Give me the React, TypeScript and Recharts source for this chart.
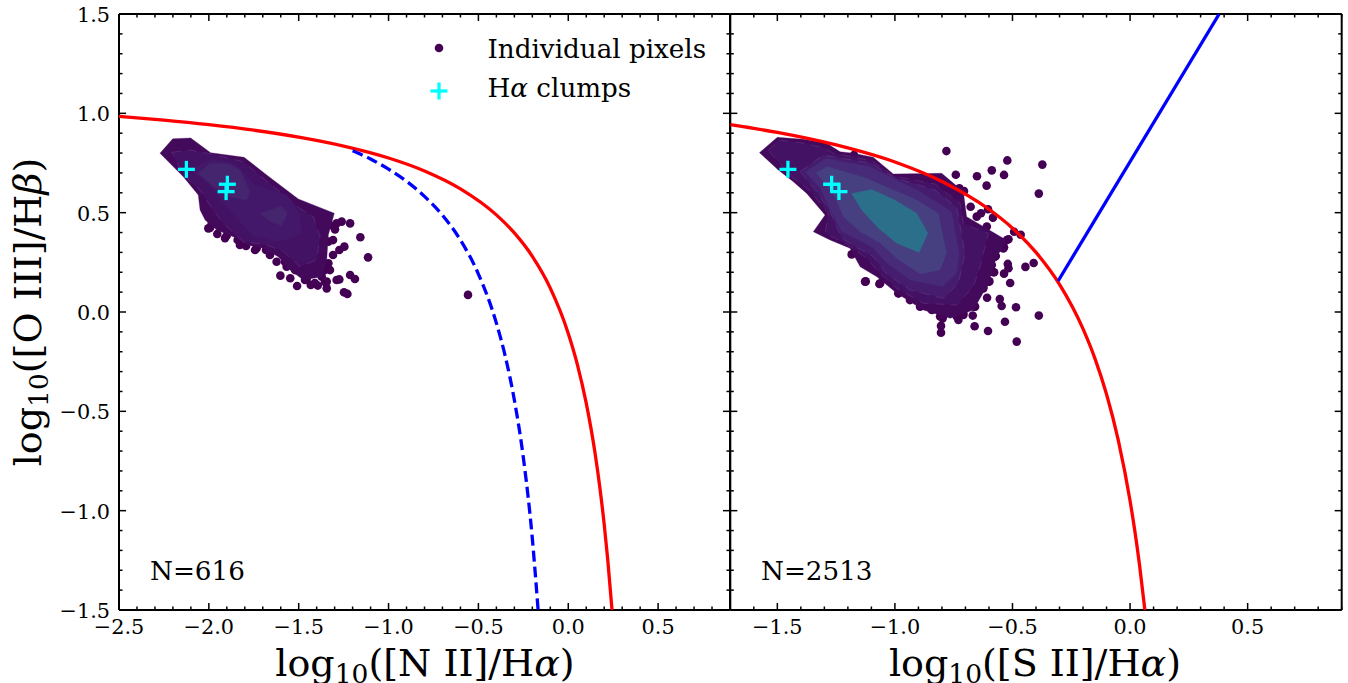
import React from "react";
import { ScatterChart, Scatter, XAxis, YAxis } from "recharts";

type P = [number, number];

// ---------- axis ticks ----------
const xTicksLeft = [-2.5,-2.4,-2.3,-2.2,-2.1,-2.0,-1.9,-1.8,-1.7,-1.6,-1.5,-1.4,-1.3,-1.2,-1.1,-1.0,-0.9,-0.8,-0.7,-0.6,-0.5,-0.4,-0.3,-0.2,-0.1,0,0.1,0.2,0.3,0.4,0.5,0.6,0.7,0.8,0.9];
const xTicksRight = [-1.7,-1.6,-1.5,-1.4,-1.3,-1.2,-1.1,-1.0,-0.9,-0.8,-0.7,-0.6,-0.5,-0.4,-0.3,-0.2,-0.1,0,0.1,0.2,0.3,0.4,0.5,0.6,0.7,0.8,0.9];
const yTicks = [-1.5,-1.4,-1.3,-1.2,-1.1,-1.0,-0.9,-0.8,-0.7,-0.6,-0.5,-0.4,-0.3,-0.2,-0.1,0,0.1,0.2,0.3,0.4,0.5,0.6,0.7,0.8,0.9,1.0,1.1,1.2,1.3,1.4,1.5];

// ---------- demarcation curves ----------
const kewleyNII: P[] = [[-2.5,.985],[-2.25,.966],[-2,.943],[-1.75,.915],[-1.5,.88],[-1.25,.835],[-1,.775],[-.8,.71],[-.6,.62],[-.4,.489],[-.3,.398],[-.2,.28],[-.1,.12],[0,-.108],[.05,-.262],[.1,-.459],[.15,-.716],[.175,-.878],[.2,-1.069],[.22,-1.25],[.2435,-1.5]];
const kauffmannNII: P[] = [[-1.2,.812],[-1.1,.77],[-1,.719],[-.9,.658],[-.8,.582],[-.7,.487],[-.6,.362],[-.5,.191],[-.4,-.056],[-.35,-.225],[-.3,-.443],[-.25,-.733],[-.2,-1.14],[-.168,-1.498]];
const kewleySII: P[] = [[-1.7,.943],[-1.5,.904],[-1.25,.841],[-1,.755],[-.8,.657],[-.6,.517],[-.5,.422],[-.4,.3],[-.3,.139],[-.2,-.085],[-.15,-.232],[-.1,-.414],[-.05,-.646],[0,-.95],[.02,-1.1],[.04,-1.271],[.063,-1.5]];
const seyfertLiner: P[] = [[-.306,.156],[.379,1.5]];

// ---------- left panel: contours ----------
const leftLevel0: P[] = [[-2.272,.799],[-2.201,.872],[-2.101,.876],[-1.99,.802],[-1.804,.779],[-1.678,.69],[-1.502,.569],[-1.302,.497],[-1.335,.388],[-1.344,.262],[-1.372,.178],[-1.474,.161],[-1.548,.211],[-1.614,.278],[-1.697,.321],[-1.789,.337],[-1.845,.371],[-1.956,.413],[-2.021,.463],[-2.049,.513],[-2.059,.589],[-2.142,.681]];
const leftLevel1: P[] = [[-2.207,.804],[-2.105,.815],[-1.984,.795],[-1.808,.757],[-1.697,.673],[-1.493,.522],[-1.419,.48],[-1.381,.379],[-1.4,.262],[-1.493,.228],[-1.586,.304],[-1.678,.337],[-1.808,.354],[-1.92,.446],[-1.984,.522],[-2.012,.564],[-2.059,.623],[-2.142,.69]];
const leftLevel2: P[] = [[-2.105,.715],[-1.984,.774],[-1.845,.74],[-1.743,.639],[-1.567,.589],[-1.502,.505],[-1.483,.396],[-1.604,.354],[-1.753,.379],[-1.836,.463],[-1.91,.539],[-2.003,.648]];
const leftLevel3a: P[] = [[-2.059,.698],[-1.994,.748],[-1.892,.748],[-1.827,.715],[-1.771,.606],[-1.789,.564],[-1.892,.58],[-1.984,.639]];
const leftLevel3b: P[] = [[-1.715,.497],[-1.595,.534],[-1.563,.497],[-1.595,.433],[-1.669,.463]];

// ---------- left panel: points ----------
const leftPixels: P[] = [[-2.003,.421],[-1.953,.393],[-1.901,.384],[-1.84,.362],[-1.793,.332],[-1.682,.312],[-1.623,.253],[-1.602,.183],[-1.547,.17],[-1.509,.131],[-1.433,.136],[-1.394,.133],[-1.344,.119],[-1.344,.153],[-1.289,.161],[-1.274,.164],[-1.214,.186],[-1.187,.166],[-1.248,.099],[-1.229,.091],[-1.114,.275],[-1.274,.312],[-1.246,.329],[-1.157,.376],[-1.214,.446],[-1.261,.455],[-1.289,.446],[-1.298,.416],[-1.335,.354],[-1.335,.245],[-.558,.086],[-1.456,.164],[-1.372,.178],[-1.354,.211],[-1.567,.228],[-1.734,.321],[-1.882,.404],[-1.984,.446],[-1.52,.211],[-1.465,.161],[-1.41,.146],[-1.354,.151],[-1.326,.211],[-1.309,.287],[-1.309,.362],[-1.326,.438],[-1.576,.252],[-1.66,.287],[-1.743,.312],[-1.827,.337],[-1.91,.372],[-1.994,.423]];
const leftClumps: P[] = [[-2.125,.718],[-1.897,.643],[-1.904,.606]];

// ---------- right panel: contours ----------
const rightLevel0: P[] = [[-1.576,.802],[-1.5,.879],[-1.389,.869],[-1.29,.849],[-1.233,.807],[-1.177,.799],[-1.092,.779],[-1.007,.695],[-.801,.698],[-.709,.606],[-.695,.48],[-.539,.371],[-.525,.354],[-.567,.279],[-.602,.144],[-.666,.01],[-.765,-.032],[-.879,.01],[-.992,.094],[-1.077,.178],[-1.148,.228],[-1.191,.321],[-1.276,.363],[-1.347,.404],[-1.297,.488],[-1.375,.597],[-1.432,.656],[-1.496,.715]];
const rightLevel1: P[] = [[-1.538,.812],[-1.496,.866],[-1.382,.849],[-1.297,.824],[-1.262,.799],[-1.099,.762],[-1.007,.685],[-.829,.644],[-.723,.547],[-.709,.443],[-.602,.396],[-.638,.228],[-.666,.128],[-.737,.035],[-.879,.044],[-.992,.119],[-1.077,.211],[-1.12,.27],[-1.205,.342],[-1.297,.396],[-1.283,.497],[-1.361,.611],[-1.432,.673]];
const rightLevel2: P[] = [[-1.404,.706],[-1.304,.79],[-1.099,.748],[-1.007,.678],[-.829,.614],[-.737,.527],[-.702,.295],[-.73,.144],[-.794,.069],[-.936,.111],[-1.035,.191],[-1.092,.279],[-1.156,.321],[-1.226,.371],[-1.276,.505],[-1.333,.606]];
const rightLevel3: P[] = [[-1.382,.706],[-1.293,.774],[-1.106,.732],[-.893,.606],[-.758,.505],[-.726,.295],[-.737,.195],[-.797,.128],[-.936,.161],[-1.035,.245],[-1.092,.321],[-1.156,.362],[-1.226,.404],[-1.276,.513],[-1.318,.623]];
const rightLevel4: P[] = [[-1.335,.701],[-1.287,.732],[-1.12,.673],[-.907,.564],[-.815,.497],[-.78,.295],[-.808,.211],[-.893,.191],[-.992,.27],[-1.063,.346],[-1.148,.404],[-1.219,.48],[-1.262,.597]];
const rightLevel5: P[] = [[-1.184,.597],[-1.099,.617],[-1,.564],[-.907,.497],[-.86,.396],[-.897,.3],[-.992,.346],[-1.07,.421],[-1.141,.513]];

// ---------- right panel: points ----------
const rightPixels: P[] = [[-.781,.81],[-.522,.763],[-.373,.742],[-.588,.713],[-.536,.69],[-.741,.691],[-.651,.683],[-.61,.636],[-.388,.596],[-.726,.623],[-.706,.609],[-.678,.53],[-.634,.497],[-.604,.517],[-.583,.475],[-.493,.404],[-.465,.389],[-.517,.366],[-.536,.326],[-.571,.282],[-.52,.242],[-.517,.22],[-.536,.193],[-.578,.2],[-.41,.247],[-.445,.227],[-.51,.146],[-.598,.154],[-.608,.072],[-.554,.065],[-.546,.03],[-.485,.024],[-.388,-.018],[-.532,-.049],[-.669,-.018],[-.73,-.04],[-.661,-.072],[-.604,-.096],[-.482,-.149],[-.804,-.07],[-.804,-.104],[-.797,-.032],[-1.124,.154],[-1.184,.29],[-1.066,.141],[-.985,.094],[-1.174,.79],[-.624,.128],[-.663,.027],[-.709,-.007],[-.595,.228],[-.574,.279],[-.524,.362],[-.539,.32],[-.574,.279],[-.588,.237],[-.581,.2],[-.602,.153],[-.624,.119],[-.659,.027],[-.709,-.015],[-.737,-.023],[-.794,-.015],[-.808,-.023],[-.843,.01],[-.893,.027],[-.936,.06],[-.985,.094],[-1.063,.144],[-1.127,.153],[-.609,.43],[-.652,.48]];
const rightClumps: P[] = [[-1.455,.718],[-1.269,.643],[-1.238,.606]];

// ---------- text ----------
const legendLabels = ["Individual pixels", "clumps"];
const leftCount = "N=616";
const rightCount = "N=2513";

// ---------- styles ----------
const SERIF = "'DejaVu Serif', serif";
const DOT = "#440154";
const LEVELS = ["#430a5c", "#441265", "#461c6e", "#472a78", "#464080", "#2c6f8a"];
const LEFT_LEVELS = ["#430a5c", "#441265", "#43186a", "#46256f", "#46256f"];
const pts = (a: P[]) => a.map(([x, y]) => ({ x, y }));
const closed = (a: P[]) => pts([...a, a[0]]);
const isMajor = (v: number) => Math.abs(v * 2 - Math.round(v * 2)) < 1e-6;
const fmt = (v: number) => {
  const s = Math.abs(v).toFixed(1);
  return v < -1e-9 ? "\u2212" + s : s;
};

const xTick = (side: "bottom" | "top") => (p: any) => {
  const v = p.payload.value as number;
  const m = isMajor(v);
  const len = m ? 7 : 3.5;
  const dir = side === "bottom" ? -1 : 1;
  return (
    <g>
      <line x1={p.x} x2={p.x} y1={p.y} y2={p.y + dir * len} stroke="#000" strokeWidth={1.5} />
      {side === "bottom" && m && (
        <text x={p.x} y={p.y + 24} textAnchor="middle" fontFamily={SERIF} fontSize={20.8} fill="#000">
          {fmt(v)}
        </text>
      )}
    </g>
  );
};

const yTick = (side: "left" | "right", labels: boolean) => (p: any) => {
  const v = p.payload.value as number;
  const m = isMajor(v);
  const len = m ? 7 : 3.5;
  const dir = side === "left" ? 1 : -1;
  return (
    <g>
      <line x1={p.x} x2={p.x + dir * len} y1={p.y} y2={p.y} stroke="#000" strokeWidth={1.5} />
      {labels && m && (
        <text x={p.x - 9} y={p.y + 8} textAnchor="end" fontFamily={SERIF} fontSize={20.8} fill="#000">
          {fmt(v)}
        </text>
      )}
    </g>
  );
};

const noDot = () => <g />;
const dot = (p: any) => <circle cx={p.cx} cy={p.cy} r={4.3} fill={DOT} />;
const plus = (p: any) => (
  <g stroke="#00ffff" strokeWidth={3.3}>
    <line x1={p.cx - 8.5} x2={p.cx + 8.5} y1={p.cy} y2={p.cy} />
    <line x1={p.cx} x2={p.cx} y1={p.cy - 8.5} y2={p.cy + 8.5} />
  </g>
);

const contour = (a: P[], fill: string, seam = false) => (
  <Scatter
    data={closed(a)}
    dataKey="y"
    xAxisId="b"
    yAxisId="l"
    isAnimationActive={false}
    shape={noDot}
    fill={fill}
    line={{ fill, stroke: seam ? "#c9b8d8" : fill, strokeWidth: seam ? 0.5 : 0.3, strokeDasharray: seam ? "9 7" : undefined, strokeOpacity: seam ? 0.28 : 1 }}
    lineType="joint"
    lineJointType="linear"
  />
);

const curve = (a: P[], stroke: string, dash?: string) => (
  <Scatter
    data={pts(a)}
    dataKey="y"
    xAxisId="b"
    yAxisId="l"
    isAnimationActive={false}
    shape={noDot}
    fill={stroke}
    line={{ stroke, strokeWidth: 3.3, fill: "none", strokeDasharray: dash }}
    lineType="joint"
    lineJointType="monotoneX"
  />
);

const spine = { stroke: "#000", strokeWidth: 2 };

const axes = (ticks: number[], domain: [number, number], yLabels: boolean) => [
  <XAxis key="b" xAxisId="b" type="number" dataKey="x" orientation="bottom" domain={domain} ticks={ticks} interval={0} height={1} tickSize={0} tickMargin={0} tickLine={false} allowDataOverflow axisLine={spine} tick={xTick("bottom")} />,
  <XAxis key="t" xAxisId="t" type="number" dataKey="x" orientation="top" domain={domain} ticks={ticks} interval={0} height={1} tickSize={0} tickMargin={0} tickLine={false} allowDataOverflow axisLine={spine} tick={xTick("top")} />,
  <YAxis key="l" yAxisId="l" type="number" dataKey="y" orientation="left" domain={[-1.5, 1.5]} ticks={yTicks} interval={0} width={1} tickSize={0} tickMargin={0} tickLine={false} allowDataOverflow axisLine={spine} tick={yTick("left", yLabels)} />,
  <YAxis key="r" yAxisId="r" type="number" dataKey="y" orientation="right" domain={[-1.5, 1.5]} ticks={yTicks} interval={0} width={1} tickSize={0} tickMargin={0} tickLine={false} allowDataOverflow axisLine={spine} tick={yTick("right", false)} />,
];

const axisText = (x: number, y: number, name: string, symbol: string, extra?: any) => (
  <text x={x} y={y} textAnchor="middle" fontFamily={SERIF} fontSize={38} fill="#000" {...extra}>
    log
    <tspan fontSize={26.5} dy={7}>10</tspan>
    <tspan dy={-7}>([{name}]/H</tspan>
    <tspan fontStyle="italic">{symbol}</tspan>)
  </text>
);

const legendMarks = (
  <g>
    <circle cx={439} cy={48} r={4.3} fill={DOT} />
    <text x={487.5} y={58} fontFamily={SERIF} fontSize={26.2} fill="#000">{legendLabels[0]}</text>
    <g stroke="#00ffff" strokeWidth={3.3}>
      <line x1={430.5} x2={447.5} y1={91} y2={91} />
      <line x1={439} x2={439} y1={82.5} y2={99.5} />
    </g>
    <text x={487.5} y={97} fontFamily={SERIF} fontSize={26.2} fill="#000">H<tspan fontStyle="italic">α</tspan> {legendLabels[1]}</text>
  </g>
);

export default function App() {
  return (
    <div style={{ position: "absolute", left: 0, top: 0, width: 1348, height: 683, overflow: "hidden", background: "#fff" }}>
      <div style={{ position: "absolute", left: 0, top: 0 }}>
        <ScatterChart width={735} height={683} margin={{ left: 118, right: 4, top: 13, bottom: 72 }}>
          {axes(xTicksLeft, [-2.5, 0.9], true)}
          <Scatter data={pts(leftPixels)} dataKey="y" xAxisId="b" yAxisId="l" isAnimationActive={false} shape={dot} fill={DOT} />
          {contour(leftLevel0, LEFT_LEVELS[0])}
          {contour(leftLevel1, LEFT_LEVELS[1], true)}
          {contour(leftLevel2, LEFT_LEVELS[2])}
          {contour(leftLevel3a, LEFT_LEVELS[3])}
          {contour(leftLevel3b, LEFT_LEVELS[4])}
          {curve(kewleyNII, "#ff0000")}
          {curve(kauffmannNII, "#0000ff", "11 5")}
          <Scatter data={pts(leftClumps)} dataKey="y" xAxisId="b" yAxisId="l" isAnimationActive={false} shape={plus} fill="#00ffff" />
          {legendMarks}
          <text x={150} y={580} fontFamily={SERIF} fontSize={26.2} fill="#000">{leftCount}</text>
          {axisText(425, 676, "N II", "α")}
          {axisText(41, 312, "O III", "β", { transform: "rotate(-90 41 312)" })}
        </ScatterChart>
      </div>
      <div style={{ position: "absolute", left: 725, top: 0 }}>
        <ScatterChart width={623} height={683} margin={{ left: 4.3, right: 5.3, top: 13, bottom: 72 }}>
          {axes(xTicksRight, [-1.7, 0.9], false)}
          <Scatter data={pts(rightPixels)} dataKey="y" xAxisId="b" yAxisId="l" isAnimationActive={false} shape={dot} fill={DOT} />
          {contour(rightLevel0, LEVELS[0])}
          {contour(rightLevel1, LEVELS[1], true)}
          {contour(rightLevel2, LEVELS[2], true)}
          {contour(rightLevel3, LEVELS[3])}
          {contour(rightLevel4, LEVELS[4])}
          {contour(rightLevel5, LEVELS[5])}
          {curve(kewleySII, "#ff0000")}
          {curve(seyfertLiner, "#0000ff")}
          <Scatter data={pts(rightClumps)} dataKey="y" xAxisId="b" yAxisId="l" isAnimationActive={false} shape={plus} fill="#00ffff" />
          <text x={36} y={580} fontFamily={SERIF} fontSize={26.2} fill="#000">{rightCount}</text>
          {axisText(310, 676, "S II", "α")}
        </ScatterChart>
      </div>
    </div>
  );
}
